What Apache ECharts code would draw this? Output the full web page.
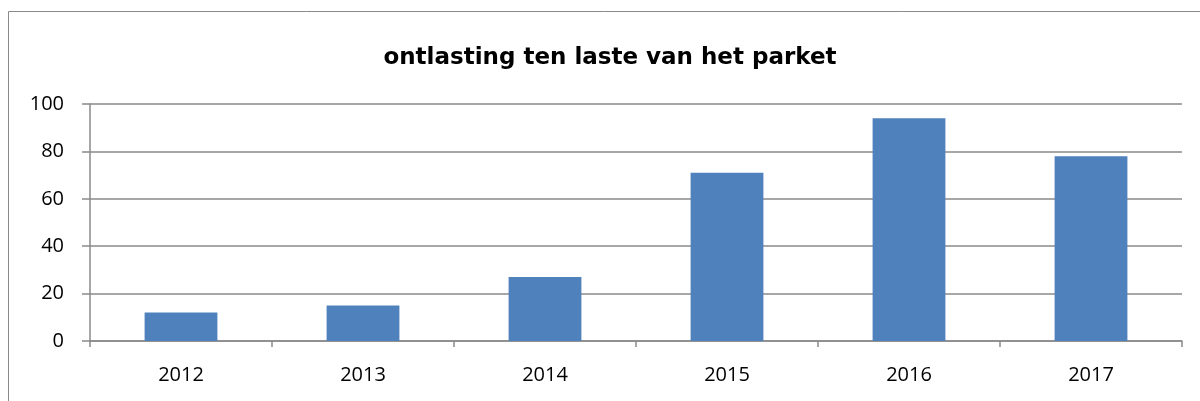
<!DOCTYPE html>
<html>
<head>
<meta charset="utf-8">
<script src="https://cdn.jsdelivr.net/npm/echarts@6/dist/echarts.min.js"></script>
<style>
  html, body { margin: 0; padding: 0; background: #fff; }
  #chart { width: 1200px; height: 401px; }
</style>
</head>
<body>
<div id="chart"></div>
<script>
const chartTitle = 'ontlasting ten laste van het parket'
const years = ['2012', '2013', '2014', '2015', '2016', '2017']
const values = [12, 15, 27, 71, 94, 78]

const chart = echarts.init(document.getElementById('chart'))

const option = {
  animation: false,
  title: {
    text: chartTitle,
    left: 605,
    textAlign: 'center',
    top: 42,
    textStyle: {
      fontFamily: 'DejaVu Sans',
      fontWeight: 'bold',
      fontSize: 23,
      color: '#000'
    }
  },
  graphic: [{
    type: 'rect',
    shape: { x: 8.5, y: 11.5, width: 1300, height: 500 },
    style: { fill: 'none', stroke: '#8a8a8a', lineWidth: 1 },
    silent: true
  }],
  grid: {
    left: 90,
    right: 18,
    top: 104,
    bottom: 60
  },
  xAxis: {
    type: 'category',
    data: years,
    axisLine: { lineStyle: { color: '#8a8a8a', width: 1.5 } },
    axisTick: { show: true, length: 6, lineStyle: { color: '#8a8a8a', width: 1.5 } },
    axisLabel: {
      color: '#000',
      fontSize: 20,
      fontFamily: 'Open Sans',
      margin: 24
    }
  },
  yAxis: {
    type: 'value',
    min: 0,
    max: 100,
    interval: 20,
    axisLine: { show: true, lineStyle: { color: '#8a8a8a', width: 1.5 } },
    axisTick: { show: true, length: 8, lineStyle: { color: '#8a8a8a', width: 1.5 } },
    splitLine: { lineStyle: { color: '#8a8a8a', width: 1.5 } },
    axisLabel: {
      color: '#000',
      fontSize: 20,
      fontFamily: 'Open Sans',
      margin: 26
    }
  },
  series: [{
    type: 'bar',
    data: values,
    barWidth: '40%',
    itemStyle: { color: '#4f81bd' }
  }]
}

chart.setOption(option)
</script>
</body>
</html>
